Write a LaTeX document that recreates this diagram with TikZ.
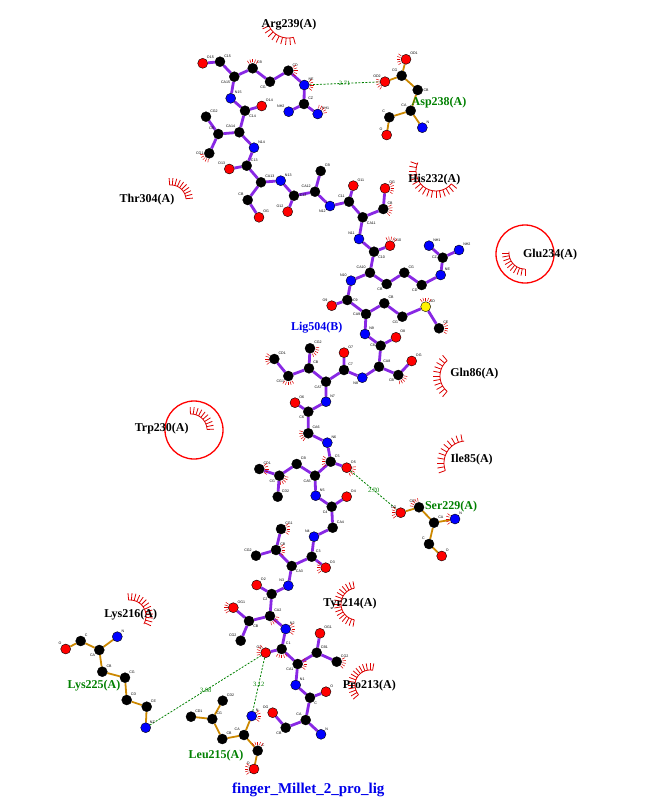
\documentclass[tikz,border=0pt]{standalone}
\usepackage{fontspec}
\setmainfont{Liberation Serif}
\setsansfont{Liberation Sans}
\usetikzlibrary{backgrounds}
\definecolor{ligbond}{RGB}{136,40,228}
\definecolor{resbond}{RGB}{204,136,0}
\definecolor{hbgreen}{RGB}{0,128,0}
\definecolor{hydred}{RGB}{220,0,0}
\definecolor{ligblue}{RGB}{0,0,235}

% hydrophobic contact: centre x, centre y, radius, first angle, last angle
\newcommand{\eyelash}[5]{%
  \draw[hyd] plot[domain=#4:#5,samples=20] ({#1+#3*cos(\x)},{#2+#3*sin(\x)});
  \foreach [parse=true] \a in {#4,#4+10,...,#5}
    \draw[hyd] ({#1+#3*cos(\a)},{#2+#3*sin(\a)}) -- ({#1+(#3+7)*cos(\a)},{#2+(#3+7)*sin(\a)});
}
% small spokes on a contact atom
\newcommand{\atomlash}[2]{%
  \foreach [parse=true] \a in {#2-36,#2-18,...,#2+36}
    \draw[hyd,line width=0.5pt] (#1) ++(\a:5.8) -- ++(\a:3.4);
}

\begin{document}
\begin{tikzpicture}[x=1pt,y=-1pt,
  atom/.style={circle,draw=black,line width=0.4pt,minimum size=10pt,inner sep=0pt},
  catom/.style={atom,fill=black},
  oatom/.style={atom,fill=red},
  natom/.style={atom,fill=blue},
  satom/.style={atom,fill=yellow},
  every label/.style={font=\fontsize{3.6}{3.6}\selectfont\sffamily,inner sep=0.4pt},
  lb/.style={ligbond,line width=2.8pt},
  rb/.style={resbond,line width=1.8pt},
  hb/.style={hbgreen,line width=0.8pt,dash pattern=on 2pt off 1.5pt},
  hyd/.style={hydred,line width=0.8pt},
  ring/.style={circle,draw=red,line width=1.3pt,minimum size=58pt,inner sep=0pt},
  res/.style={font=\fontsize{12}{12}\selectfont\bfseries},
  hres/.style={res,text=hbgreen},
  dist/.style={font=\fontsize{6.5}{6.5}\selectfont,text=hbgreen,inner sep=0.5pt}]
\useasboundingbox (0,0) rectangle (663,808);

% ligand atoms
\node[oatom,label=above right:O15] (o15) at (202.7,63.3) {};
\node[catom,label=above right:C15] (c15) at (220,61.7) {};
\node[catom,label=below left:CA15] (ca15) at (234.3,76.7) {};
\node[catom,label=above right:CB] (cb15) at (252.7,68.3) {};
\node[catom,label=below left:CG] (cg15) at (270,81.7) {};
\node[catom,label=above right:CD] (cd15) at (288.3,70.7) {};
\node[natom,label=above right:NE] (ne15) at (304.3,85) {};
\node[catom,label=above right:CZ] (cz15) at (304,104) {};
\node[natom,label=above right:NH1] (nha15) at (317.7,114) {};
\node[natom,label=above left:NH2] (nhb15) at (288.7,111.7) {};
\node[natom,label=above right:N15] (n15) at (230.7,98.3) {};
\node[catom,label=below right:C14] (c14) at (245,110.7) {};
\node[oatom,label=above right:O14] (o14) at (261.7,106) {};
\node[catom,label=above left:CA14] (ca14) at (239.3,132.3) {};
\node[catom,label=above left:CB] (cb14) at (218.3,134) {};
\node[catom,label=above right:CG2] (cga14) at (206,116.7) {};
\node[catom,label=left:CG1] (cgb14) at (209.3,153.3) {};
\node[natom,label=above right:N14] (n14) at (254,147.7) {};
\node[catom,label=above right:C13] (c13) at (246.7,165.7) {};
\node[oatom,label=above left:O13] (o13) at (229.3,169) {};
\node[catom,label=above right:CA13] (ca13) at (261,182.3) {};
\node[catom,label=above left:CB] (cb13) at (247.7,200) {};
\node[oatom,label=above right:OG] (og13) at (259,217.3) {};
\node[natom,label=above right:N13] (n13) at (280.7,180.7) {};
\node[catom,label=right:C12] (c12) at (294,195.7) {};
\node[oatom,label=above left:O12] (o12) at (287.7,211.7) {};
\node[catom,label=above left:CA12] (ca12) at (315,191.7) {};
\node[catom,label=above right:CB] (cb12) at (320.7,171) {};
\node[natom,label=below left:N12] (n12) at (330,206) {};
\node[catom,label=above left:C11] (c11) at (349,201.7) {};
\node[oatom,label=above right:O11] (o11) at (353.3,185.7) {};
\node[catom,label=below right:CA11] (ca11) at (362.7,217.3) {};
\node[catom,label=above right:CB] (cb11) at (383.3,209) {};
\node[oatom,label=above right:OG] (og11) at (385,188.3) {};
\node[natom,label=above left:N11] (n11) at (359,239) {};
\node[catom,label=below right:C10] (c10) at (374,251.7) {};
\node[oatom,label=above right:O10] (o10) at (390,245.7) {};
\node[catom,label=above left:CA10] (ca10) at (370,272.7) {};
\node[catom,label=below left:CB] (cb10) at (386.7,284) {};
\node[catom,label=above right:CG] (cg10) at (404.3,272.7) {};
\node[catom,label=below left:CD] (cd10) at (421.7,285) {};
\node[natom,label=above right:NE] (ne10) at (440.7,275) {};
\node[catom,label=left:CZ] (cz10) at (442.7,257.7) {};
\node[natom,label=above right:NH1] (nha10) at (429,245.7) {};
\node[natom,label=above right:NH2] (nhb10) at (459,250) {};
\node[natom,label=above left:N10] (n10) at (351,280.7) {};
\node[catom,label=right:C9] (c9) at (347.3,300) {};
\node[oatom,label=above left:O9] (o9) at (331.7,305.7) {};
\node[catom,label=left:CA9] (ca9) at (366,314) {};
\node[catom,label=above right:CB] (cb9) at (384.3,303.3) {};
\node[catom,label=below left:CG] (cg9) at (402.3,316.7) {};
\node[satom,label=above right:SD] (sd9) at (425.7,306.7) {};
\node[catom,label=above right:CE] (ce9) at (439,328.3) {};
\node[natom,label=above right:N9] (n9) at (365,334) {};
\node[catom,label=left:C8] (c8) at (380.7,345.7) {};
\node[oatom,label=above right:O8] (o8) at (396,337.3) {};
\node[catom,label=above right:CA8] (ca8) at (379,366.7) {};
\node[catom,label=below left:CB] (cb8) at (398.3,375) {};
\node[oatom,label=above right:OG] (og8) at (411.7,361) {};
\node[natom,label=below left:N8] (n8) at (362.3,377.7) {};
\node[catom,label=above right:C7] (c7) at (344,370) {};
\node[oatom,label=above right:O7] (o7) at (344,352.7) {};
\node[catom,label=below left:CA7] (ca7) at (326,381.7) {};
\node[catom,label=above right:CB] (cb7) at (309,368.3) {};
\node[catom,label=above right:CG2] (cga7) at (310,348.3) {};
\node[catom,label=below left:CG1] (cgb7) at (288.3,376) {};
\node[catom,label=above right:CD1] (cd7) at (274.3,359) {};
\node[natom,label=above right:N7] (n7) at (326,401.7) {};
\node[catom,label=below left:C6] (c6) at (308.3,411.7) {};
\node[oatom,label=above right:O6] (o6) at (295,402.7) {};
\node[catom,label=above right:CA6] (ca6) at (308.3,433.3) {};
\node[natom,label=above right:N6] (n6) at (327.3,442.7) {};
\node[catom,label=above right:C5] (c5) at (330.7,461.7) {};
\node[oatom,label=above right:O5] (o5) at (346.7,467.7) {};
\node[catom,label=below left:CA5] (ca5) at (315,475.7) {};
\node[catom,label=above right:CB] (cb5) at (296.7,464) {};
\node[catom,label=below left:CG] (cg5) at (279.3,475.7) {};
\node[catom,label=above right:CD1] (cda5) at (259.3,469) {};
\node[catom,label=above right:CD2] (cdb5) at (277.7,496.7) {};
\node[natom,label=above right:N5] (n5) at (315.7,495.7) {};
\node[catom,label=below left:C4] (c4) at (331.7,506.7) {};
\node[oatom,label=above right:O4] (o4) at (346.7,496.7) {};
\node[catom,label=above right:CA4] (ca4) at (332.7,527.7) {};
\node[natom,label=above left:N4] (n4) at (314,536.7) {};
\node[catom,label=above right:C3] (c3) at (311.7,556.7) {};
\node[oatom,label=above right:O3] (o3) at (325.7,567.7) {};
\node[catom,label=below right:CA3] (ca3) at (291.7,566) {};
\node[catom,label=above right:CB] (cb3) at (276,550) {};
\node[catom,label=above right:CG1] (cga3) at (281,529) {};
\node[catom,label=above left:CG2] (cgb3) at (256,555.7) {};
\node[natom,label=above left:N3] (n3) at (288.3,585.7) {};
\node[catom,label=below left:C2] (c2) at (271.7,594) {};
\node[oatom,label=above right:O2] (o2) at (256.7,585) {};
\node[catom,label=above right:CA2] (ca2) at (270,616) {};
\node[catom,label=below right:CB] (cb2) at (249,621) {};
\node[oatom,label=above right:OG1] (oga2) at (233.3,607.7) {};
\node[catom,label=above left:CG2] (cgb2) at (240.7,640.7) {};
\node[natom,label=above right:N2] (n2) at (285.7,629) {};
\node[catom,label=above right:C1] (c1) at (281.7,649) {};
\node[oatom,label=above left:O1] (o1) at (265.7,652.7) {};
\node[catom,label=below left:CA1] (ca1) at (297.7,664) {};
\node[catom,label=above right:CB1] (cb1) at (316.7,652.7) {};
\node[oatom,label=above right:OG1] (oga1) at (320,633.3) {};
\node[catom,label=above right:CG2] (cgb1) at (336.7,661.7) {};
\node[natom,label=above right:N1] (n1) at (295.7,685) {};
\node[catom,label=below right:C] (c0) at (310,697.7) {};
\node[oatom,label=above right:O] (o0) at (326,691.7) {};
\node[catom,label=above left:CA] (ca0) at (305.7,720) {};
\node[catom,label=below left:CB] (cb0) at (285.7,727.7) {};
\node[oatom,label=above left:OG] (og0) at (272.7,712.7) {};
\node[natom,label=above right:N] (n0) at (321,734.3) {};

% residues with hydrogen bonds
\node[oatom,label=above left:OD2] (aspOD2) at (385,81.7) {};
\node[catom,label=above left:CG] (aspCG) at (401.7,75.7) {};
\node[oatom,label=above right:OD1] (aspOD1) at (406,59.3) {};
\node[catom,label=right:CB] (aspCB) at (417.7,90) {};
\node[catom,label=above left:CA] (aspCA) at (410.7,110.7) {};
\node[catom,label=above left:C] (aspC) at (389.3,117.3) {};
\node[oatom,label=above left:O] (aspO) at (386.7,135) {};
\node[natom,label=above right:N] (aspN) at (422.3,127.7) {};
\node[oatom,label=above left:OG] (serOG) at (400.7,512.7) {};
\node[catom,label=above left:CB] (serCB) at (419,507.3) {};
\node[catom,label=above right:CA] (serCA) at (434,522.7) {};
\node[natom,label=above right:N] (serN) at (455,519) {};
\node[catom,label=above left:C] (serC) at (429,544) {};
\node[oatom,label=above right:O] (serO) at (441.7,556) {};
\node[oatom,label=above left:O] (lysO) at (65.7,649) {};
\node[catom,label=above right:C] (lysC) at (80.7,641) {};
\node[catom,label=below left:CA] (lysCA) at (99.3,650) {};
\node[natom,label=above right:N] (lysN) at (117.3,636.7) {};
\node[catom,label=above right:CB] (lysCB) at (102.3,671.7) {};
\node[catom,label=above right:CG] (lysCG) at (125,677.7) {};
\node[catom,label=above right:CD] (lysCD) at (126.7,700) {};
\node[catom,label=above right:CE] (lysCE) at (146.7,706.7) {};
\node[natom,label=above right:NZ] (lysNZ) at (145.7,727.7) {};
\node[natom,label=above right:N] (leuN) at (251.7,716) {};
\node[catom,label=above left:CA] (leuCA) at (244,735) {};
\node[catom,label=above right:C] (leuC) at (257.7,750.7) {};
\node[oatom,label=above left:O] (leuO) at (254,769) {};
\node[catom,label=above right:CB] (leuCB) at (222.3,739) {};
\node[catom,label=above right:CG] (leuCG) at (212.3,719) {};
\node[catom,label=above right:CD1] (leuCDa) at (191,716.7) {};
\node[catom,label=above right:CD2] (leuCDb) at (222.7,700.7) {};

% circled residues
\node[ring] (glu234) at (525,254) {};
\node[ring] (trp230) at (194,430) {};

\begin{pgfonlayer}{background}
% ligand bonds
\draw[lb] (o15) -- (c15) -- (ca15) -- (cb15) -- (cg15) -- (cd15) -- (ne15) -- (cz15) -- (nha15);
\draw[lb] (cz15) -- (nhb15);
\draw[lb] (ca15) -- (n15) -- (c14) -- (o14);
\draw[lb] (c14) -- (ca14) -- (cb14) -- (cga14);
\draw[lb] (cb14) -- (cgb14);
\draw[lb] (ca14) -- (n14) -- (c13) -- (o13);
\draw[lb] (c13) -- (ca13) -- (cb13) -- (og13);
\draw[lb] (ca13) -- (n13) -- (c12) -- (o12);
\draw[lb] (c12) -- (ca12) -- (cb12);
\draw[lb] (ca12) -- (n12) -- (c11) -- (o11);
\draw[lb] (c11) -- (ca11) -- (cb11) -- (og11);
\draw[lb] (ca11) -- (n11) -- (c10) -- (o10);
\draw[lb] (c10) -- (ca10) -- (cb10) -- (cg10) -- (cd10) -- (ne10) -- (cz10) -- (nha10);
\draw[lb] (cz10) -- (nhb10);
\draw[lb] (ca10) -- (n10) -- (c9) -- (o9);
\draw[lb] (c9) -- (ca9) -- (cb9) -- (cg9) -- (sd9) -- (ce9);
\draw[lb] (ca9) -- (n9) -- (c8) -- (o8);
\draw[lb] (c8) -- (ca8) -- (cb8) -- (og8);
\draw[lb] (ca8) -- (n8) -- (c7) -- (o7);
\draw[lb] (c7) -- (ca7) -- (cb7) -- (cga7);
\draw[lb] (cb7) -- (cgb7) -- (cd7);
\draw[lb] (ca7) -- (n7) -- (c6) -- (o6);
\draw[lb] (c6) -- (ca6) -- (n6) -- (c5) -- (o5);
\draw[lb] (c5) -- (ca5) -- (cb5) -- (cg5) -- (cda5);
\draw[lb] (cg5) -- (cdb5);
\draw[lb] (ca5) -- (n5) -- (c4) -- (o4);
\draw[lb] (c4) -- (ca4) -- (n4) -- (c3) -- (o3);
\draw[lb] (c3) -- (ca3) -- (cb3) -- (cga3);
\draw[lb] (cb3) -- (cgb3);
\draw[lb] (ca3) -- (n3) -- (c2) -- (o2);
\draw[lb] (c2) -- (ca2) -- (cb2) -- (oga2);
\draw[lb] (cb2) -- (cgb2);
\draw[lb] (ca2) -- (n2) -- (c1) -- (o1);
\draw[lb] (c1) -- (ca1) -- (cb1) -- (oga1);
\draw[lb] (cb1) -- (cgb1);
\draw[lb] (ca1) -- (n1) -- (c0) -- (o0);
\draw[lb] (c0) -- (ca0) -- (cb0) -- (og0);
\draw[lb] (ca0) -- (n0);

% residue bonds
\draw[rb] (aspOD2) -- (aspCG) -- (aspOD1);
\draw[rb] (aspCG) -- (aspCB) -- (aspCA) -- (aspC) -- (aspO);
\draw[rb] (aspCA) -- (aspN);
\draw[rb] (serOG) -- (serCB) -- (serCA) -- (serN);
\draw[rb] (serCA) -- (serC) -- (serO);
\draw[rb] (lysO) -- (lysC) -- (lysCA) -- (lysN);
\draw[rb] (lysCA) -- (lysCB) -- (lysCG) -- (lysCD) -- (lysCE) -- (lysNZ);
\draw[rb] (leuN) -- (leuCA) -- (leuC) -- (leuO);
\draw[rb] (leuCA) -- (leuCB) -- (leuCG) -- (leuCDa);
\draw[rb] (leuCG) -- (leuCDb);

% hydrogen bonds
\draw[hb] (ne15) -- node[dist] {2.71} (aspOD2);
\draw[hb] (o5) -- node[dist] {2.70} (serOG);
\draw[hb] (o1) -- node[dist,pos=0.5] {3.08} (lysNZ);
\draw[hb] (o1) -- node[dist,pos=0.5] {3.12} (leuN);

% hydrophobic contacts
\eyelash{288}{17}{21}{75}{160}
\eyelash{436}{171}{20}{40}{205}
\eyelash{171}{200}{15}{265}{355}
\eyelash{525}{253}{16}{90}{185}
\eyelash{191}{430}{16}{268}{358}
\eyelash{460}{376}{20}{130}{230}
\eyelash{466}{463}{22}{160}{265}
\eyelash{357}{604}{16}{100}{260}
\eyelash{130}{616}{16}{265}{390}
\eyelash{370}{685}{15}{140}{280}
\end{pgfonlayer}

\atomlash{cb15}{270}
\atomlash{cd15}{0}
\atomlash{ne15}{0}
\atomlash{nha15}{315}
\atomlash{cgb14}{135}
\atomlash{aspOD2}{160}
\atomlash{aspOD1}{180}
\atomlash{og11}{0}
\atomlash{cb11}{10}
\atomlash{o10}{280}
\atomlash{sd9}{270}
\atomlash{ce9}{0}
\atomlash{cga7}{30}
\atomlash{cgb7}{90}
\atomlash{cd7}{180}
\atomlash{cb8}{45}
\atomlash{ca6}{160}
\atomlash{c5}{180}
\atomlash{o5}{30}
\atomlash{cg5}{45}
\atomlash{cda5}{0}
\atomlash{cga3}{0}
\atomlash{cb3}{0}
\atomlash{o3}{180}
\atomlash{ca2}{45}
\atomlash{oga2}{180}
\atomlash{n2}{0}
\atomlash{c1}{90}
\atomlash{o1}{200}
\atomlash{cgb1}{10}
\atomlash{ca1}{0}
\atomlash{serOG}{180}
\atomlash{serCB}{225}
\atomlash{serN}{180}
\atomlash{leuN}{0}
\atomlash{leuC}{270}
\atomlash{leuO}{180}

% residue labels
\node[res] (arg239) at (289,24.3) {Arg239(A)};
\node[hres] (asp238) at (439,102.3) {Asp238(A)};
\node[res] (his232) at (434.3,180) {His232(A)};
\node[res] (thr304) at (147,200) {Thr304(A)};
\node[res] at (550,255) {Glu234(A)};
\node[res,text=ligblue] (lig504) at (316.7,327.3) {Lig504(B)};
\node[res] (gln86) at (474.3,374) {Gln86(A)};
\node[res] at (161.7,428.3) {Trp230(A)};
\node[res] (ile85) at (471.7,460) {Ile85(A)};
\node[hres] (ser229) at (451,506.7) {Ser229(A)};
\node[res] (lys216) at (130.7,614.3) {Lys216(A)};
\node[res] (tyr214) at (350,604) {Tyr214(A)};
\node[hres] (lys225) at (94,686) {Lys225(A)};
\node[res] (pro213) at (369.3,685.3) {Pro213(A)};
\node[hres] (leu215) at (216,756) {Leu215(A)};
\node[font=\fontsize{15}{15}\selectfont\bfseries,text=ligblue] (title) at (308.3,790) {finger\_Millet\_2\_pro\_lig};
\end{tikzpicture}
\end{document}
